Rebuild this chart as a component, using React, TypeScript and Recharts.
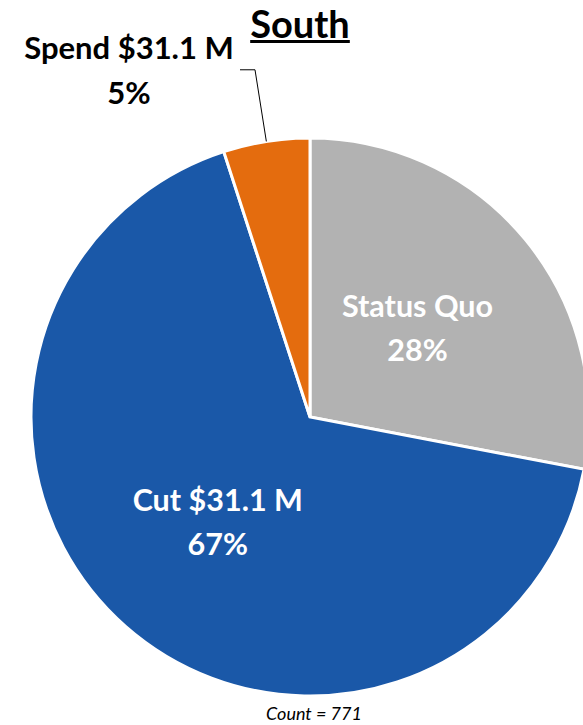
import React from "react";
import { PieChart, Pie, Cell } from "recharts";

const regionTitle = "South";
const sliceNames = ["Status Quo", "Cut $31.1 M", "Spend $31.1 M"];
const sliceShares = [28, 67, 5];
const responseCount = 771;

const sliceColors = ["#B2B2B2", "#1A58A8", "#E46C0E"];
const FONT = "Lato, 'Open Sans', sans-serif";
const RAD = Math.PI / 180;
const LABEL_SIZE = 30.5;

const data = sliceNames.map((name, i) => ({ name, value: sliceShares[i] }));

function renderLabel(props: any) {
  const { cx, cy, midAngle, outerRadius, index, name, value } = props;
  const cos = Math.cos(-midAngle * RAD);
  const sin = Math.sin(-midAngle * RAD);

  // small slice: label sits outside with a leader line
  if (value < 10) {
    const sx = cx + outerRadius * cos;
    const sy = cy + outerRadius * sin;
    const ex = cx + outerRadius * 1.26 * cos;
    const ey = cy + outerRadius * 1.26 * sin;
    const hx = ex - 15;
    const tx = hx - 111;
    return (
      <g key={`lbl-${index}`}>
        <polyline
          points={`${sx},${sy} ${ex},${ey} ${hx},${ey}`}
          fill="none"
          stroke="#000"
          strokeWidth={1}
        />
        <text x={tx} y={ey - 11} textAnchor="middle" fill="#000" fontFamily={FONT} fontWeight={700} fontSize={31}>
          {name}
        </text>
        <text x={tx} y={ey + 34} textAnchor="middle" fill="#000" fontFamily={FONT} fontWeight={700} fontSize={31}>
          {`${value}%`}
        </text>
      </g>
    );
  }

  const r = outerRadius * 0.5;
  const x = cx + r * cos;
  const y = cy + r * sin;
  return (
    <g key={`lbl-${index}`}>
      <text x={x} y={y - 11} textAnchor="middle" fill="#fff" fontFamily={FONT} fontWeight={700} fontSize={LABEL_SIZE}>
        {name}
      </text>
      <text x={x} y={y + 33} textAnchor="middle" fill="#fff" fontFamily={FONT} fontWeight={700} fontSize={LABEL_SIZE}>
        {`${value}%`}
      </text>
    </g>
  );
}

export default function App() {
  return (
    <div style={{ position: "fixed", left: 0, top: 0, width: 583, height: 725, overflow: "hidden", background: "#fff" }}>
      <PieChart width={583} height={725} margin={{ top: 0, right: 0, bottom: 0, left: 0 }}>
        <Pie
          data={data}
          dataKey="value"
          nameKey="name"
          cx={310}
          cy={417}
          outerRadius={279}
          startAngle={90}
          endAngle={-270}
          stroke="#fff"
          strokeWidth={3}
          label={renderLabel}
          labelLine={false}
          isAnimationActive={false}
        >
          {data.map((d, i) => (
            <Cell key={d.name} fill={sliceColors[i]} />
          ))}
        </Pie>
      </PieChart>
      <div
        style={{
          position: "absolute",
          left: 200,
          width: 200,
          top: 2,
          textAlign: "center",
          fontFamily: FONT,
          fontWeight: 700,
          fontSize: 38,
          lineHeight: "42px",
          textDecoration: "underline",
          textDecorationThickness: 3,
          color: "#000",
        }}
      >
        {regionTitle}
      </div>
      <div
        style={{
          position: "absolute",
          left: 214,
          width: 200,
          top: 702,
          textAlign: "center",
          fontFamily: FONT,
          fontStyle: "italic",
          fontSize: 18,
          lineHeight: "22px",
          color: "#000",
        }}
      >
        {`Count = ${responseCount}`}
      </div>
    </div>
  );
}
